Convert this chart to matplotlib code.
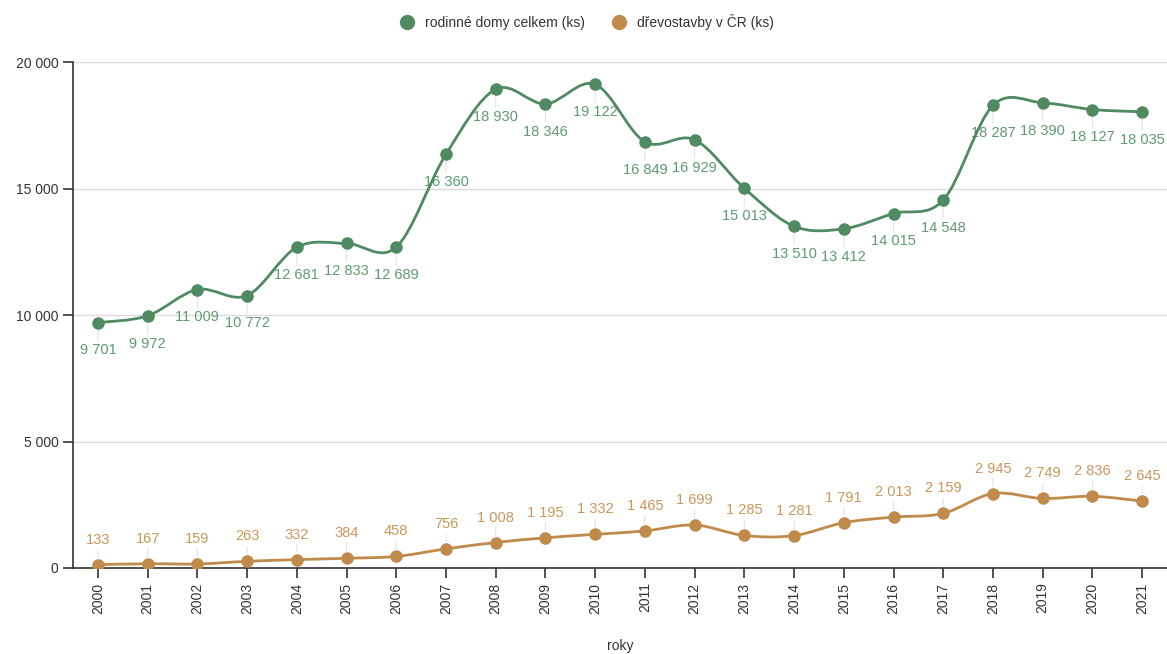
import numpy as np
import matplotlib.pyplot as plt
from matplotlib.path import Path
from matplotlib.patches import PathPatch
from matplotlib.ticker import FuncFormatter
from matplotlib.lines import Line2D

plt.rcParams['font.family'] = ['Liberation Sans', 'DejaVu Sans']

years = [2000, 2001, 2002, 2003, 2004, 2005, 2006, 2007, 2008, 2009, 2010,
         2011, 2012, 2013, 2014, 2015, 2016, 2017, 2018, 2019, 2020, 2021]
domy = [9701, 9972, 11009, 10772, 12681, 12833, 12689, 16360, 18930, 18346, 19122,
        16849, 16929, 15013, 13510, 13412, 14015, 14548, 18287, 18390, 18127, 18035]
drevo = [133, 167, 159, 263, 332, 384, 458, 756, 1008, 1195, 1332,
         1465, 1699, 1285, 1281, 1791, 2013, 2159, 2945, 2749, 2836, 2645]

green = "#4f8a62"
green_txt = "#5e9a72"
brown = "#c08a4a"
brown_txt = "#c9975c"


def fmt(v):
    return f"{v:,}".replace(",", " ")


def smooth_path(x, y):
    # Catmull-Rom spline as cubic bezier segments
    x = np.asarray(x, float)
    y = np.asarray(y, float)
    n = len(x)
    verts = [(x[0], y[0])]
    codes = [Path.MOVETO]
    for i in range(n - 1):
        i0 = max(i - 1, 0)
        i3 = min(i + 2, n - 1)
        c1 = (x[i] + (x[i + 1] - x[i0]) / 6, y[i] + (y[i + 1] - y[i0]) / 6)
        c2 = (x[i + 1] - (x[i3] - x[i]) / 6, y[i + 1] - (y[i3] - y[i]) / 6)
        verts += [c1, c2, (x[i + 1], y[i + 1])]
        codes += [Path.CURVE4] * 3
    return Path(verts, codes)


fig = plt.figure(figsize=(11.67, 6.54), dpi=100)
ax = fig.add_axes([0.0626, 0.1315, 0.9374, 0.7735])

xs = np.arange(len(years))

for vals, col, txtcol, off in [(domy, green, green_txt, -20), (drevo, brown, brown_txt, 18)]:
    ax.add_patch(PathPatch(smooth_path(xs, vals), facecolor="none", edgecolor=col, lw=2, zorder=3))
    ax.plot(xs, vals, "o", color=col, ms=8, zorder=4)
    for xi, v in zip(xs, vals):
        ax.annotate(fmt(v), (xi, v), xytext=(0, off), textcoords="offset points",
                    ha="center", va="center", fontsize=10.5, color=txtcol,
                    arrowprops=dict(arrowstyle="-", color="#e3e3e3", lw=0.8,
                                    shrinkA=0, shrinkB=5), zorder=2)

ax.set_xlim(-0.5, 21.5)
ax.set_ylim(0, 20000)
ax.set_yticks([0, 5000, 10000, 15000, 20000])
ax.yaxis.set_major_formatter(FuncFormatter(lambda v, p: fmt(int(v))))
ax.set_xticks(xs)
ax.set_xticklabels([str(y) for y in years], rotation=90)
ax.tick_params(axis="both", length=7, width=1.2, color="#333333", labelsize=10, labelcolor="#333333")
ax.grid(axis="y", color="#dcdcdc", lw=1)
ax.set_axisbelow(True)
for s in ["top", "right"]:
    ax.spines[s].set_visible(False)
for s in ["left", "bottom"]:
    ax.spines[s].set_color("#333333")
    ax.spines[s].set_linewidth(1.2)
ax.set_xlabel("roky", fontsize=10, color="#333333", labelpad=18)

handles = [Line2D([], [], marker="o", ls="", color=green, ms=10),
           Line2D([], [], marker="o", ls="", color=brown, ms=10)]
fig.legend(handles, ["rodinné domy celkem (ks)", "dřevostavby v ČR (ks)"],
           loc="center", bbox_to_anchor=(0.5, 0.966), ncol=2, frameon=False,
           fontsize=10, labelcolor="#333333", handletextpad=0.3, columnspacing=1.5)

fig.savefig("out.png", dpi=100)
